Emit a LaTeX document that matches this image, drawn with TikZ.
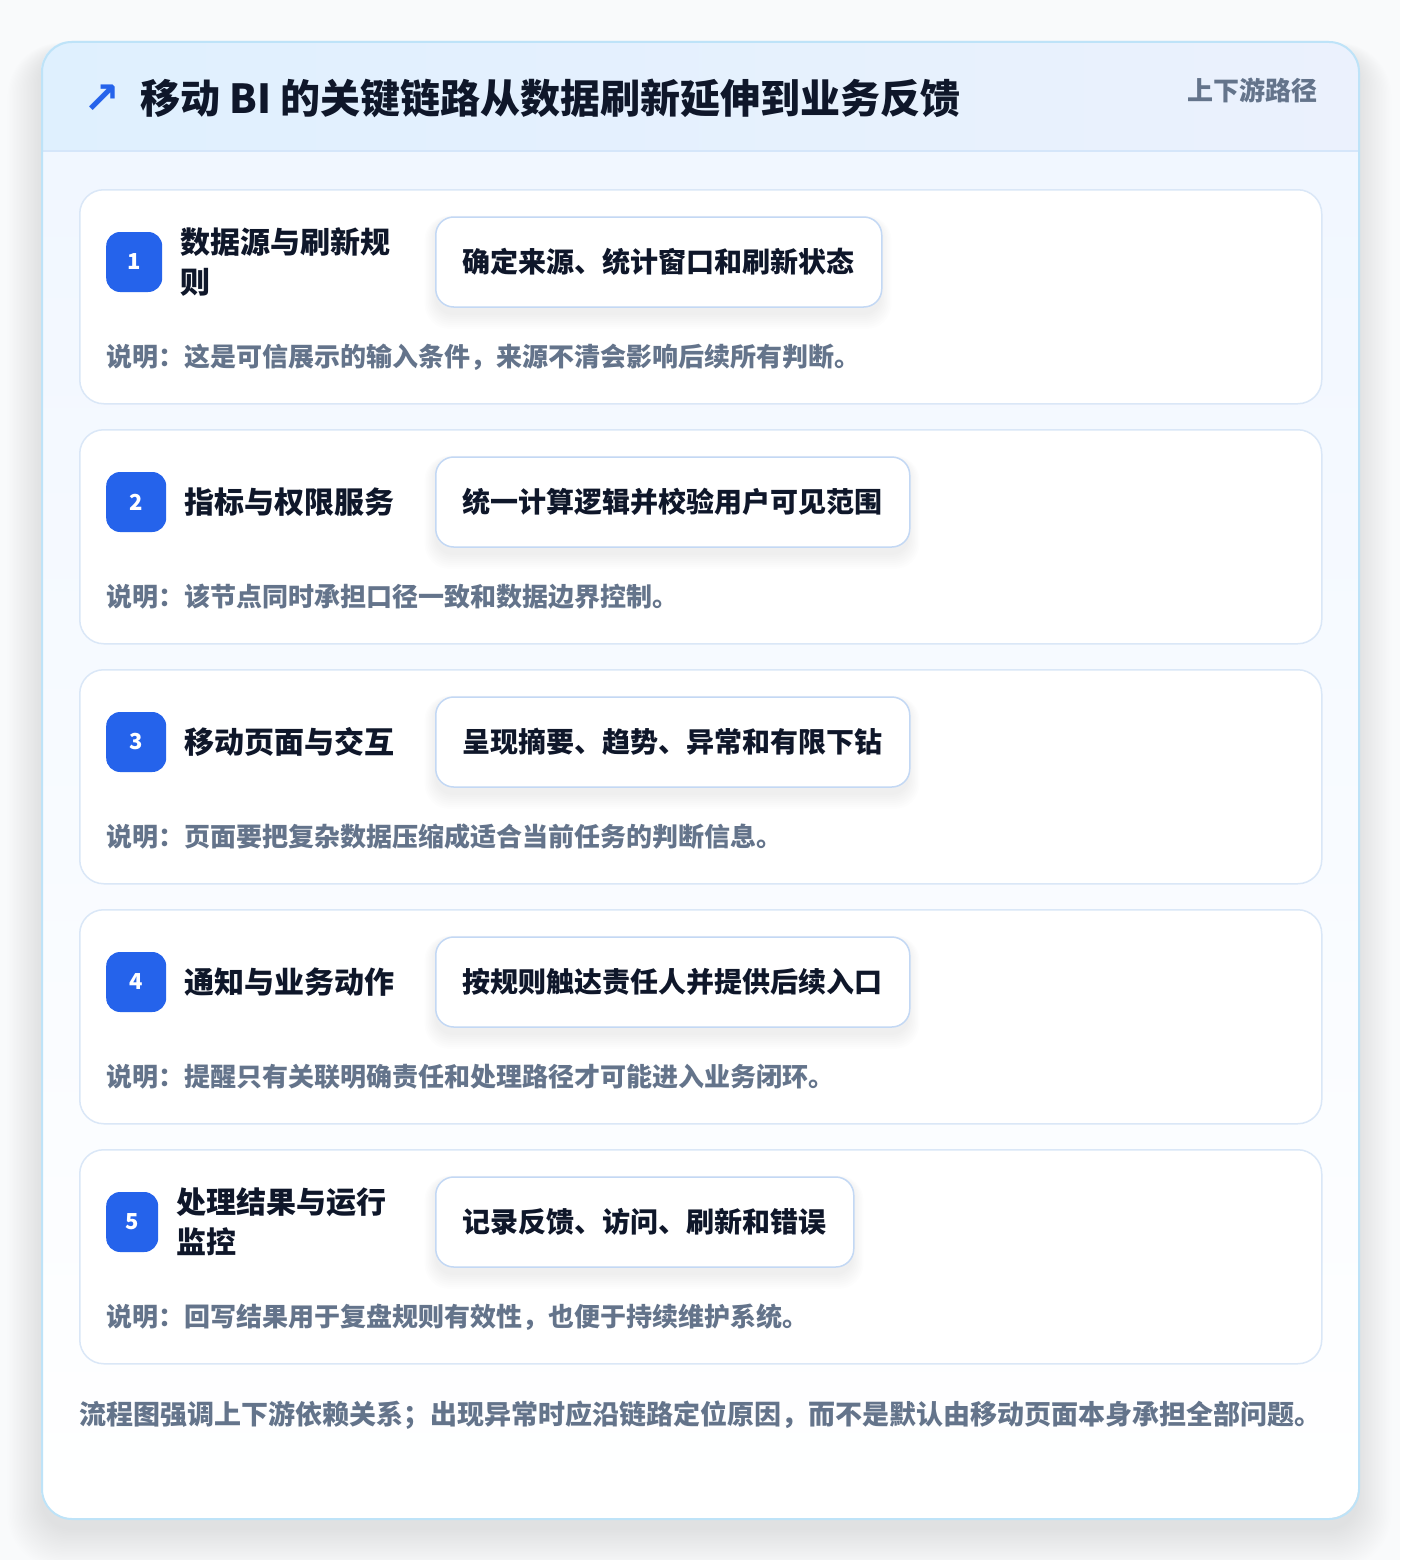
\documentclass[tikz,border=0pt]{standalone}
\usepackage{fontspec}
\setmainfont{Noto Sans CJK SC}
\newfontfamily\djv{DejaVu Sans}
\definecolor{pagebg}{HTML}{F9FAFB}
\definecolor{cardborder}{HTML}{BEE3F8}
\definecolor{headL}{HTML}{DFF0FE}
\definecolor{headR}{HTML}{EBF1FD}
\definecolor{headline}{HTML}{D5E6FA}
\definecolor{bodytop}{HTML}{F1F7FF}
\definecolor{itemborder}{HTML}{DAE7F7}
\definecolor{pillborder}{HTML}{C3D8F4}
\definecolor{badgeblue}{HTML}{2563EB}
\definecolor{ink}{HTML}{0F172A}
\definecolor{muted}{HTML}{64748B}
\tikzset{
  itembox/.style={draw=itemborder, line width=1.5pt, fill=white, rounded corners=24, inner sep=0pt},
  badgebox/.style={fill=badgeblue, rounded corners=14, inner sep=0pt, minimum height=60,
    text=white, font=\fontsize{22}{26}\selectfont\bfseries},
  titletext/.style={text=ink, align=left, inner sep=0pt, font=\fontsize{30}{40}\selectfont\bfseries},
  pillbox/.style={draw=pillborder, line width=1.5pt, fill=white, rounded corners=18, inner xsep=27pt,
    inner ysep=0pt, minimum height=90, text=ink, font=\fontsize{28}{32}\selectfont\bfseries},
  notetext/.style={text=muted, inner sep=0pt, anchor=west, font=\fontsize{26}{30}\selectfont\bfseries},
}
\newcommand\mkcard[7]{%
  \node[itembox, minimum width=1242, minimum height=214, anchor=north west] (card#1) at (79,#2) {};
  \node[badgebox, minimum width=#3, anchor=west] (badge#1) at (106,{#2+73}) {#1};
  \node[titletext, anchor=west] (title#1) at (#4,{#2+73}) {#5};
  \foreach \k in {0,...,7} {
    \fill[black, opacity=0.006, rounded corners={18+\k}] ({435-\k*1.5},{#2+30-\k*0.5}) rectangle ++({#7+3*\k},{96+2.5*\k});
  }
  \node[pillbox, anchor=west] (pill#1) at (435,{#2+73}) {#6};
}
\begin{document}
\begin{tikzpicture}[x=1pt, y=-1pt]
\useasboundingbox (0,0) rectangle (1400,1560);
\fill[pagebg] (0,0) rectangle (1400,1560);
% soft shadow of the outer card
\foreach \i in {0,...,24} {
  \fill[black, opacity=0.004, rounded corners={30+\i}]
    ({41-1.4*\i},{52-0.4*\i}) rectangle ({1358+1.4*\i},{1530+1.6*\i});
}
% outer card
\begin{scope}
  \clip[rounded corners=30] (41,41) rectangle (1358,1518);
  \shade[top color=bodytop, bottom color=white] (41,151) rectangle (1358,1518);
  \shade[left color=headL, right color=headR] (41,41) rectangle (1358,151);
  \draw[headline, line width=1.5pt] (41,151) -- (1358,151);
\end{scope}
\node[draw=cardborder, line width=2pt, rounded corners=30, minimum width=1317, minimum height=1477,
  anchor=north west, inner sep=0pt] (outer) at (41,41) {};
% header
\node[text=badgeblue, inner sep=0pt, font=\djv\fontsize{44}{44}\selectfont\bfseries] (icon) at (102,99) {↗};
\node[text=ink, inner sep=0pt, anchor=west, font=\fontsize{40}{44}\selectfont\bfseries] (heading) at (140,98)
  {移动 BI 的关键链路从数据刷新延伸到业务反馈};
\node[text=muted, inner sep=0pt, anchor=east, font=\fontsize{26}{30}\selectfont\bfseries] (tag) at (1318,90)
  {上下游路径};
% cards
\mkcard{1}{189}{56}{180}{数据源与刷新规\\则}{确定来源、统计窗口和刷新状态}{446}
\node[notetext] (note1) at (106,357) {说明：这是可信展示的输入条件，来源不清会影响后续所有判断。};
\mkcard{2}{429}{60}{184}{指标与权限服务}{统一计算逻辑并校验用户可见范围}{474}
\node[notetext] (note2) at (106,597) {说明：该节点同时承担口径一致和数据边界控制。};
\mkcard{3}{669}{60}{184}{移动页面与交互}{呈现摘要、趋势、异常和有限下钻}{474}
\node[notetext] (note3) at (106,837) {说明：页面要把复杂数据压缩成适合当前任务的判断信息。};
\mkcard{4}{909}{60}{184}{通知与业务动作}{按规则触达责任人并提供后续入口}{474}
\node[notetext] (note4) at (106,1077) {说明：提醒只有关联明确责任和处理路径才可能进入业务闭环。};
\mkcard{5}{1149}{52}{176}{处理结果与运行\\监控}{记录反馈、访问、刷新和错误}{418}
\node[notetext] (note5) at (106,1317) {说明：回写结果用于复盘规则有效性，也便于持续维护系统。};
% footer
\node[text=muted, inner sep=0pt, anchor=west, font=\fontsize{27}{32}\selectfont\bfseries] (footer) at (79,1415)
  {流程图强调上下游依赖关系；出现异常时应沿链路定位原因，而不是默认由移动页面本身承担全部问题。};
\end{tikzpicture}
\end{document}
